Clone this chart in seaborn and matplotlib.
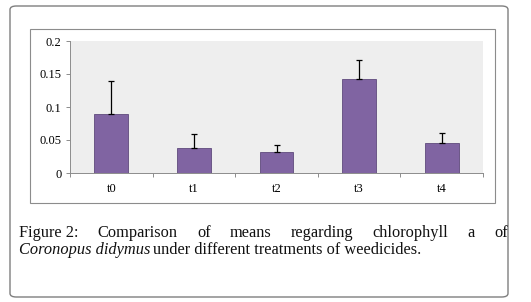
import matplotlib
matplotlib.use("Agg")
import matplotlib.pyplot as plt
import seaborn as sns
import pandas as pd
from matplotlib.patches import FancyBboxPatch, Rectangle

categories = ["t0", "t1", "t2", "t3", "t4"]
means = [0.090, 0.038, 0.032, 0.142, 0.045]
errors = [0.049, 0.021, 0.011, 0.029, 0.015]
yticks = [0, 0.05, 0.1, 0.15, 0.2]
ytick_labels = ["0", "0.05", "0.1", "0.15", "0.2"]

W, H = 531, 302
fig = plt.figure(figsize=(W / 100, H / 100), dpi=100)
fig.patch.set_facecolor("white")

# outer rounded frame
fig.patches.append(FancyBboxPatch((10 / W, 1 - 297 / H), 498 / W, 291 / H,
                                  boxstyle="round,pad=0,rounding_size=0.012",
                                  transform=fig.transFigure, fill=False,
                                  edgecolor="#7f7f7f", linewidth=1.0))
# inner chart frame
fig.patches.append(Rectangle((30 / W, 1 - 203 / H), 465 / W, 174 / H,
                             transform=fig.transFigure, fill=False,
                             edgecolor="#8c8c8c", linewidth=0.8))

ax = fig.add_axes([70 / W, 1 - 173 / H, 413 / W, 132 / H])
df = pd.DataFrame({"cat": categories, "val": means})
sns.barplot(data=df, x="cat", y="val", width=0.41, color="#8064A2",
            saturation=1, edgecolor="#5f4a7c", linewidth=0.6, ax=ax)
ax.errorbar(range(len(categories)), means, yerr=[[0] * len(errors), errors],
            fmt="none", ecolor="black", elinewidth=0.9, capsize=2.5, capthick=0.9)

ax.set_facecolor("#EEEEEE")
ax.set_xlim(-0.5, len(categories) - 0.5)
ax.set_ylim(0, 0.2)
ax.set_yticks(yticks)
ax.set_yticklabels(ytick_labels, fontfamily="Liberation Serif", fontsize=9)
ax.set_xticks(range(len(categories)))
ax.set_xticklabels(categories, fontfamily="Liberation Serif", fontsize=9)
ax.set_xticks([i - 0.5 for i in range(len(categories) + 1)], minor=True)
ax.tick_params(axis="x", which="major", length=0, pad=7)
ax.tick_params(axis="x", which="minor", length=3, color="#8c8c8c", width=0.7)
ax.tick_params(axis="y", length=3, color="#8c8c8c", width=0.7, pad=3)
ax.set_xlabel("")
ax.set_ylabel("")
for s in ["top", "right"]:
    ax.spines[s].set_visible(False)
for s in ["left", "bottom"]:
    ax.spines[s].set_color("#8c8c8c")
    ax.spines[s].set_linewidth(0.7)

# caption with justified first line
fig.canvas.draw()
renderer = fig.canvas.get_renderer()
fs = 11.8
serif = "Liberation Serif"
x0, x1 = 19, 508
line1 = ["Figure 2:", "Comparison", "of", "means", "regarding",
         "chlorophyll", "a", "of"]
texts = []
widths = []
for w in line1:
    t = fig.text(0, 0, w, fontsize=fs, fontfamily=serif, color="#111111",
                 transform=None, va="baseline")
    bb = t.get_window_extent(renderer)
    texts.append(t)
    widths.append(bb.width)
gap = ((x1 - x0) - sum(widths)) / (len(widths) - 1)
x = x0
y1 = H - 237
for t, w in zip(texts, widths):
    t.set_position((x, y1))
    x += w + gap

y2 = H - 254
t_it = fig.text(x0, y2, "Coronopus didymus", fontsize=fs, fontfamily=serif,
                fontstyle="italic", color="#111111", transform=None, va="baseline")
bb = t_it.get_window_extent(renderer)
fig.text(x0 + bb.width + 3, y2, "under different treatments of weedicides.",
         fontsize=fs, fontfamily=serif, color="#111111", transform=None,
         va="baseline")

fig.savefig("out.png", dpi=100)
